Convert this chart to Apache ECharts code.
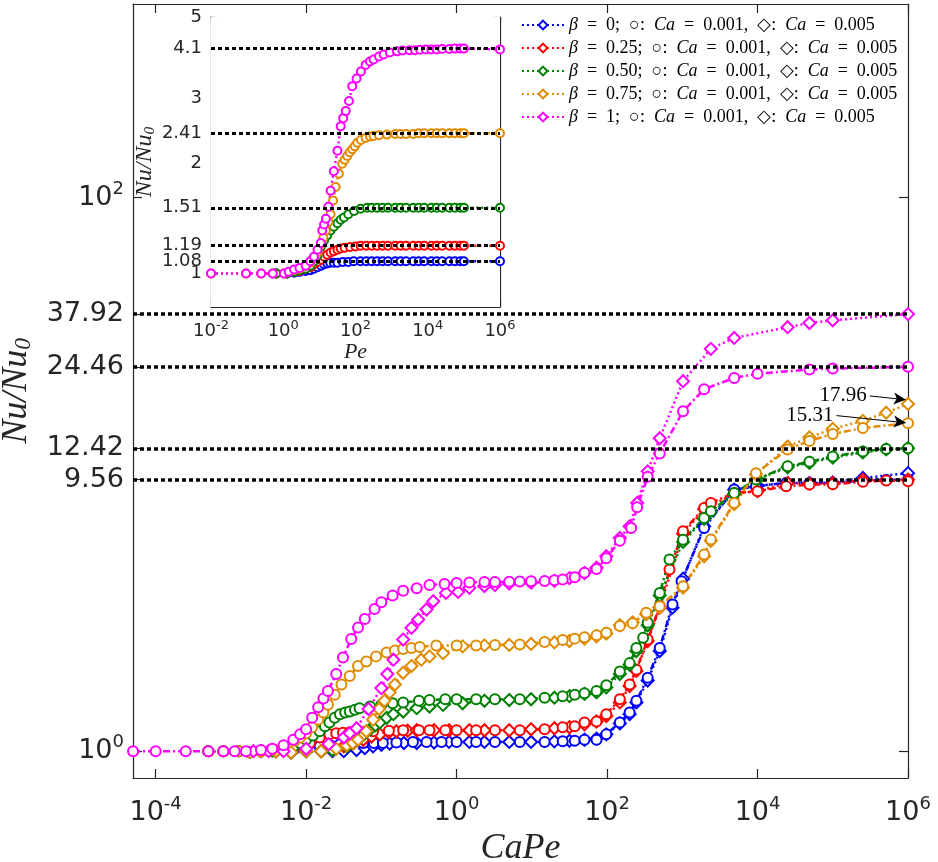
<!DOCTYPE html>
<html>
<head>
<meta charset="utf-8">
<script src="https://cdn.jsdelivr.net/npm/echarts@6/dist/echarts.min.js"></script>
<style>
html,body{margin:0;padding:0;background:#fff;}
#chart{width:938px;height:862px;}
</style>
</head>
<body>
<div id="chart"></div>
<script>
// values; x arrays hold log10(CaPe) (main) or log10(Pe) (inset)
var betaLabels = ['0', '0.25', '0.50', '0.75', '1'];
var colors = ['#0000ff', '#ff0000', '#008000', '#e08a00', '#ff00ff'];

// main plot, Ca = 0.001 (circles, dash-dot)
var blueAX = [-3.3,-3.1,-2.9,-2.75,-2.6,-2.45,-2.3,-2.15,-2.0,-1.82,-1.68,-1.55,-1.4,-1.24,-1.1,-0.98,-0.8,-0.58,-0.4,-0.2,0,0.26,0.51,0.84,1.17,1.41,1.57,1.70,1.86,1.99,2.17,2.30,2.39,2.54,2.70,2.87,2.99,3.29,3.69,3.98,4.38,4.69,5.0,5.4,5.71,6.0];
var blueAY = [1,1,1,0.99,1.0,1.0,1.01,1.02,1.03,1.04,1.05,1.06,1.065,1.07,1.07,1.07,1.075,1.08,1.08,1.08,1.08,1.08,1.08,1.08,1.08,1.085,1.09,1.10,1.10,1.15,1.27,1.38,1.52,1.84,2.36,3.39,4.11,6.4,8.81,9.06,9.31,9.3,9.3,9.5,9.55,9.56];
var redAX = [-3.3,-3.1,-2.9,-2.75,-2.6,-2.45,-2.3,-2.17,-2.05,-1.95,-1.82,-1.69,-1.6,-1.51,-1.42,-1.33,-1.22,-1.11,-0.9,-0.71,-0.5,-0.36,-0.15,0,0.26,0.51,0.84,1.17,1.41,1.57,1.70,1.86,1.99,2.17,2.30,2.39,2.54,2.70,2.83,3.01,3.29,3.38,3.69,4.0,4.38,4.69,5.0,5.4,5.71,6.0];
var redAY = [1,1,1,0.99,1.0,1.0,1.01,1.03,1.05,1.07,1.12,1.15,1.16,1.165,1.17,1.17,1.175,1.18,1.185,1.19,1.19,1.19,1.19,1.19,1.19,1.19,1.19,1.20,1.22,1.23,1.27,1.28,1.36,1.54,1.74,1.97,2.53,3.34,4.53,6.23,7.56,7.88,8.57,8.69,9.05,9.18,9.2,9.4,9.5,9.44];
var greenAX = [-3.3,-3.1,-2.9,-2.75,-2.6,-2.45,-2.3,-2.17,-2.08,-2.0,-1.91,-1.82,-1.75,-1.69,-1.62,-1.55,-1.48,-1.42,-1.35,-1.29,-1.15,-1.0,-0.85,-0.71,-0.5,-0.36,-0.15,0,0.26,0.51,0.84,1.17,1.41,1.57,1.70,1.86,1.99,2.17,2.30,2.39,2.48,2.54,2.70,2.83,3.01,3.29,3.38,3.69,3.98,4.40,4.69,5.0,5.4,5.71,6.0];
var greenAY = [1,1,1,0.99,1.0,1.0,1.01,1.04,1.07,1.10,1.14,1.18,1.23,1.27,1.32,1.36,1.38,1.39,1.41,1.43,1.45,1.47,1.49,1.50,1.52,1.53,1.54,1.54,1.54,1.54,1.54,1.56,1.58,1.60,1.62,1.65,1.73,1.94,2.08,2.36,2.57,2.91,3.73,4.92,5.8,6.96,7.35,8.57,9.57,10.7,11.1,11.6,12.1,12.35,12.42];
var orangeAX = [-3.3,-3.1,-2.9,-2.75,-2.6,-2.45,-2.3,-2.15,-2.08,-2.0,-1.92,-1.84,-1.77,-1.71,-1.62,-1.53,-1.42,-1.31,-1.20,-1.07,-0.93,-0.82,-0.71,-0.6,-0.49,-0.27,0,0.26,0.51,0.84,1.17,1.41,1.57,1.70,1.86,1.99,2.17,2.34,2.52,2.70,3.01,3.29,3.38,3.69,3.98,4.40,4.69,5.0,5.4,6.0];
var orangeAY = [1,1,1,0.99,1.0,1.01,1.03,1.09,1.12,1.16,1.22,1.30,1.38,1.47,1.60,1.74,1.87,2.03,2.11,2.20,2.27,2.31,2.34,2.36,2.38,2.41,2.41,2.41,2.42,2.43,2.48,2.52,2.55,2.58,2.62,2.68,2.83,2.9,3.16,3.34,3.94,5.13,5.81,7.88,10.1,12.3,13.2,14.0,14.7,15.31];
var magentaAX = [-4.3,-4.0,-3.6,-3.3,-3.1,-2.95,-2.8,-2.6,-2.45,-2.3,-2.17,-2.08,-2.0,-1.92,-1.84,-1.77,-1.71,-1.6,-1.51,-1.40,-1.31,-1.22,-1.09,-1.0,-0.85,-0.71,-0.53,-0.36,-0.16,0,0.17,0.37,0.51,0.70,0.84,0.99,1.17,1.30,1.41,1.57,1.70,1.86,1.99,2.17,2.32,2.40,2.54,2.70,3.01,3.29,3.69,4.0,4.69,5.0,6.0];
var magentaAY = [1,1,1,1,1,1,1,1.01,1.02,1.05,1.10,1.15,1.20,1.32,1.44,1.55,1.65,1.9,2.18,2.54,2.80,3.0,3.26,3.45,3.65,3.80,3.88,3.98,4.02,4.05,4.07,4.08,4.08,4.09,4.10,4.11,4.12,4.14,4.17,4.25,4.41,4.55,4.98,5.75,6.4,7.6,9.8,11.9,16.9,20.3,22.3,23.1,23.9,24.1,24.46];

// main plot, Ca = 0.005 (diamonds, dotted)
var blueBX = [-2.6,-2.4,-2.2,-2.0,-1.8,-1.65,-1.5,-1.33,-1.22,-1.11,-1.0,-0.89,-0.7,-0.53,-0.3,-0.1,0.17,0.37,0.70,0.99,1.30,1.50,1.70,1.86,1.99,2.17,2.30,2.39,2.54,2.70,2.87,3.01,3.29,3.69,4.0,4.4,4.69,5.0,5.4,6.0];
var blueBY = [1,1,0.99,1.0,1.0,1.0,1.0,1.01,1.025,1.04,1.055,1.065,1.07,1.07,1.075,1.08,1.08,1.08,1.08,1.08,1.085,1.09,1.10,1.11,1.15,1.26,1.36,1.5,1.8,2.3,3.3,4.2,6.5,8.8,9.1,9.3,9.3,9.35,9.7,10.1];
var redBX = [-2.6,-2.4,-2.2,-2.0,-1.8,-1.65,-1.5,-1.37,-1.24,-1.13,-1.02,-0.9,-0.8,-0.65,-0.53,-0.3,-0.1,0.17,0.37,0.70,0.99,1.30,1.50,1.70,1.86,1.99,2.17,2.30,2.39,2.54,2.70,3.01,3.29,3.69,4.0,4.4,4.69,5.0,5.4,6.0];
var redBY = [1,1,0.99,1.0,1.0,1.01,1.04,1.07,1.10,1.13,1.15,1.17,1.18,1.185,1.19,1.19,1.19,1.19,1.19,1.19,1.20,1.21,1.22,1.25,1.28,1.34,1.5,1.72,1.95,2.5,3.3,6.1,7.5,8.5,8.7,9.3,9.25,9.3,9.57,9.56];
var greenBX = [-2.6,-2.4,-2.2,-2.0,-1.8,-1.65,-1.46,-1.38,-1.31,-1.23,-1.15,-1.08,-1.02,-0.93,-0.84,-0.71,-0.53,-0.36,-0.18,0.08,0.37,0.70,0.99,1.30,1.50,1.70,1.86,1.99,2.17,2.30,2.39,2.54,2.70,3.01,3.29,3.69,4.0,4.40,4.69,5.0,5.4,5.71,6.0];
var greenBY = [1,1,0.99,1.0,1.0,1.01,1.04,1.07,1.10,1.15,1.20,1.24,1.27,1.32,1.36,1.39,1.43,1.45,1.47,1.49,1.52,1.53,1.54,1.56,1.58,1.61,1.63,1.70,1.9,2.05,2.3,2.85,3.65,5.7,6.9,8.5,9.6,10.6,11.0,11.5,12.0,12.3,12.42];
var orangeBX = [-2.6,-2.4,-2.2,-2.0,-1.8,-1.6,-1.46,-1.38,-1.31,-1.2,-1.11,-1.03,-0.96,-0.89,-0.82,-0.71,-0.60,-0.47,-0.36,-0.18,0.08,0.37,0.70,0.99,1.30,1.50,1.70,1.86,1.99,2.17,2.34,2.52,2.70,3.01,3.29,3.38,3.69,3.98,4.40,4.69,5.0,5.4,5.71,6.0];
var orangeBY = [1,1,0.99,1.0,1.0,1.02,1.05,1.07,1.10,1.18,1.30,1.42,1.52,1.63,1.74,1.92,2.03,2.14,2.20,2.26,2.39,2.41,2.42,2.44,2.47,2.50,2.55,2.60,2.66,2.85,2.92,3.12,3.3,3.9,5.06,5.75,7.8,10.0,12.6,13.6,14.6,15.6,16.7,17.96];
var magentaBX = [-2.7,-2.5,-2.3,-2.0,-1.7,-1.5,-1.42,-1.33,-1.17,-1.0,-0.92,-0.84,-0.71,-0.60,-0.51,-0.40,-0.31,-0.14,0.02,0.17,0.37,0.51,0.70,0.99,1.30,1.50,1.70,1.86,1.99,2.17,2.30,2.40,2.54,2.70,3.01,3.38,3.69,4.40,4.69,5.0,6.0];
var magentaBY = [1,1,1.0,1.02,1.06,1.12,1.16,1.21,1.42,1.69,1.9,2.14,2.53,2.79,2.99,3.25,3.48,3.73,3.76,3.89,3.95,3.98,4.03,4.06,4.12,4.22,4.4,4.6,5.06,5.89,6.49,7.88,10.25,13.5,21.7,28.4,31.1,34.0,35.2,36.0,37.92];

// inset, Nu/Nu0 against Pe
var blueInX = [-0.2,0.1,0.3,0.45,0.62,0.75,0.85,0.95,1.05,1.13,1.22,1.3,1.4,1.5,1.65,1.8,1.95,2.14,2.3,2.45,2.6,2.75,2.9,3.1,3.25,3.4,3.6,3.75,3.9,4.1,4.25,4.4,4.6,4.75,4.9,5.0,6.0];
var blueInY = [1,1,1.005,1.01,1.015,1.02,1.03,1.04,1.05,1.06,1.065,1.07,1.07,1.07,1.075,1.075,1.08,1.08,1.08,1.08,1.08,1.08,1.08,1.08,1.08,1.08,1.08,1.08,1.08,1.08,1.08,1.08,1.08,1.08,1.08,1.08,1.08];
var redInX = [-0.2,0.1,0.3,0.45,0.62,0.75,0.85,0.95,1.04,1.13,1.22,1.31,1.4,1.5,1.59,1.7,1.85,2.0,2.14,2.3,2.45,2.6,2.75,2.9,3.1,3.25,3.4,3.6,3.75,3.9,4.1,4.25,4.4,4.6,4.75,4.9,5.0,6.0];
var redInY = [1,1,1.01,1.015,1.03,1.04,1.06,1.075,1.09,1.11,1.125,1.14,1.15,1.16,1.17,1.175,1.18,1.185,1.19,1.19,1.19,1.19,1.19,1.19,1.19,1.19,1.19,1.19,1.19,1.19,1.19,1.19,1.19,1.19,1.19,1.19,1.19,1.19];
var greenInX = [-0.2,0.1,0.3,0.45,0.62,0.75,0.85,0.95,1.04,1.13,1.22,1.31,1.4,1.5,1.59,1.68,1.8,1.96,2.14,2.32,2.45,2.6,2.75,2.9,3.1,3.25,3.4,3.6,3.75,3.9,4.1,4.25,4.4,4.6,4.75,4.9,5.0,6.0];
var greenInY = [1,1,1.01,1.02,1.03,1.05,1.08,1.12,1.18,1.23,1.27,1.31,1.34,1.37,1.40,1.42,1.45,1.48,1.50,1.51,1.51,1.51,1.51,1.51,1.51,1.51,1.51,1.51,1.51,1.51,1.51,1.51,1.51,1.51,1.51,1.51,1.51,1.51];
var orangeInX = [-2,-1.03,-0.61,-0.29,0.02,0.3,0.45,0.62,0.75,0.85,0.95,1.04,1.11,1.18,1.25,1.31,1.38,1.45,1.54,1.63,1.7,1.77,1.84,1.91,1.98,2.05,2.15,2.28,2.4,2.5,2.65,2.87,3.1,3.25,3.4,3.6,3.75,3.9,4.1,4.25,4.4,4.6,4.75,4.9,5.0,6.0];
var orangeInY = [1,1,1,1,1,1.02,1.03,1.05,1.07,1.1,1.14,1.2,1.25,1.31,1.38,1.45,1.58,1.72,1.87,1.99,2.04,2.09,2.14,2.18,2.22,2.27,2.31,2.34,2.36,2.37,2.38,2.39,2.4,2.4,2.4,2.4,2.41,2.41,2.41,2.41,2.41,2.41,2.41,2.41,2.41,2.41];
var magentaInX = [-2,-1.03,-0.61,-0.29,0.02,0.15,0.30,0.45,0.62,0.75,0.85,0.95,1.04,1.08,1.13,1.18,1.25,1.31,1.4,1.5,1.59,1.66,1.73,1.82,1.91,2.03,2.15,2.28,2.4,2.5,2.65,2.78,2.95,3.15,3.3,3.5,3.65,3.79,3.95,4.1,4.25,4.4,4.6,4.75,4.9,5.0,6.0];
var magentaInY = [1,1,1,1,1,1.01,1.025,1.035,1.05,1.08,1.11,1.16,1.21,1.31,1.36,1.41,1.52,1.68,1.9,2.16,2.52,2.65,2.77,2.95,3.24,3.4,3.55,3.7,3.78,3.83,3.9,3.95,4.0,4.03,4.05,4.06,4.06,4.07,4.08,4.08,4.08,4.09,4.09,4.1,4.1,4.1,4.08];

// reference levels and tick labels
var mainLevels = [9.56, 12.42, 24.46, 37.92];
var mainYTicks = [1, 9.56, 12.42, 24.46, 37.92, 100];
var mainYTickLabels = ['10{sup|0}', '9.56', '12.42', '24.46', '37.92', '10{sup|2}'];
var mainXTicks = [1e-4, 1e-2, 1, 1e2, 1e4, 1e6];
var insetLevels = [1.08, 1.19, 1.51, 2.41, 4.1];
var insetYTicks = [1, 1.08, 1.19, 1.51, 2, 2.41, 3, 4.1, 5];
// 1.08 sits right on top of 1, so it is written beside its level line instead
var insetYLabelTicks = [1, 1.19, 1.51, 2, 2.41, 3, 4.1, 5];
var insetYTickLabels = ['1', '1.19', '1.51', '2', '2.41', '3', '4.1', '5'];
var insetXTicks = [1e-2, 1, 1e2, 1e4, 1e6];

var axisColor = '#262626';
var serif = 'Liberation Serif';
var sans = 'DejaVu Sans';
var wide = '\u2002';

function pts(lx, y) {
    var out = [];
    for (var i = 0; i < lx.length; i++) {
        out.push([Math.pow(10, lx[i]), y[i]]);
    }
    return out;
}

function legendName(i) {
    return 'β = ' + betaLabels[i] + '; ○: Ca = 0.001, ◇: Ca = 0.005';
}

function powLabel(v) {
    return '10{sup|' + Math.round(Math.log10(v)) + '}';
}

function pickLabel(v, ticks, labels) {
    var best = 0;
    for (var i = 1; i < ticks.length; i++) {
        if (Math.abs(Math.log(ticks[i] / v)) < Math.abs(Math.log(ticks[best] / v))) best = i;
    }
    return labels[best];
}

function logAxis(opt) {
    var base = {
        type: 'log',
        logBase: 10,
        gridIndex: opt.grid,
        min: opt.min,
        max: opt.max,
        position: opt.position,
        axisLine: {show: true, onZero: false, lineStyle: {color: axisColor, width: 1.2}},
        axisTick: {show: true, inside: true, length: opt.tickLen, customValues: opt.ticks,
            lineStyle: {color: axisColor, width: 1.2}},
        splitLine: {show: false},
        minorTick: {show: false},
        axisLabel: {show: false}
    };
    if (opt.labels) {
        base.axisLabel = {
            show: true,
            customValues: opt.labelTicks || opt.ticks,
            showMinLabel: true,
            showMaxLabel: true,
            hideOverlap: false,
            formatter: opt.formatter,
            color: axisColor,
            fontFamily: sans,
            fontSize: opt.fontSize,
            margin: opt.margin,
            rich: {sup: {fontSize: opt.supSize, fontFamily: sans, color: axisColor,
                padding: [0, 0, opt.supLift, 0]}}
        };
    }
    if (opt.name) {
        base.name = opt.name;
        base.nameLocation = 'middle';
        base.nameGap = opt.nameGap;
        base.nameTextStyle = {
            fontFamily: serif, fontStyle: 'italic', fontSize: opt.nameSize, color: axisColor,
            rich: {sub: {fontFamily: serif, fontSize: opt.nameSize * 0.65, color: axisColor,
                padding: [opt.nameSize * 0.45, 0, 0, 0]}}
        };
    }
    return base;
}

var xAxes = [
    logAxis({grid: 0, min: 5e-5, max: 1e6, position: 'bottom', tickLen: 9, ticks: mainXTicks,
        labels: true, formatter: powLabel, fontSize: 27, supSize: 18, supLift: 17, margin: 17,
        name: 'CaPe', nameGap: 50, nameSize: 36}),
    logAxis({grid: 0, min: 5e-5, max: 1e6, position: 'top', tickLen: 9, ticks: mainXTicks}),
    logAxis({grid: 1, min: 1e-2, max: 1e6, position: 'bottom', tickLen: 6, ticks: insetXTicks,
        labels: true, formatter: powLabel, fontSize: 18, supSize: 13, supLift: 12, margin: 12,
        name: 'Pe', nameGap: 30, nameSize: 22}),
    logAxis({grid: 1, min: 1e-2, max: 1e6, position: 'top', tickLen: 6, ticks: insetXTicks})
];
var yAxes = [
    logAxis({grid: 0, min: 0.8, max: 500, position: 'left', tickLen: 9, ticks: mainYTicks,
        labels: true, fontSize: 27, supSize: 18, supLift: 17, margin: 9,
        formatter: function (v) { return pickLabel(v, mainYTicks, mainYTickLabels); },
        name: 'Nu/Nu{sub|0}', nameGap: 84, nameSize: 36}),
    logAxis({grid: 0, min: 0.8, max: 500, position: 'right', tickLen: 9, ticks: mainYTicks}),
    logAxis({grid: 1, min: 0.81, max: 5, position: 'left', tickLen: 6, ticks: insetYTicks,
        labelTicks: insetYLabelTicks,
        labels: true, fontSize: 18, supSize: 13, supLift: 12, margin: 9,
        formatter: function (v) { return pickLabel(v, insetYLabelTicks, insetYTickLabels); },
        name: 'Nu/Nu{sub|0}', nameGap: 50, nameSize: 24}),
    logAxis({grid: 1, min: 0.81, max: 5, position: 'right', tickLen: 6, ticks: insetYTicks})
];

var mainA = [[blueAX, blueAY], [redAX, redAY], [greenAX, greenAY], [orangeAX, orangeAY], [magentaAX, magentaAY]];
var mainB = [[blueBX, blueBY], [redBX, redBY], [greenBX, greenBY], [orangeBX, orangeBY], [magentaBX, magentaBY]];
var inset = [[blueInX, blueInY], [redInX, redInY], [greenInX, greenInY], [orangeInX, orangeInY], [magentaInX, magentaInY]];

function levelLines(values, width, labelled) {
    return {
        silent: true,
        symbol: ['none', 'none'],
        label: {show: false},
        lineStyle: {color: '#000', width: width, type: [4, 3], opacity: 1},
        data: values.map(function (v) {
            var item = {yAxis: v};
            if (labelled && labelled.indexOf(v) >= 0) {
                item.label = {show: true, position: 'start', distance: 9, formatter: String(v),
                    color: axisColor, fontFamily: sans, fontSize: 18};
            }
            return item;
        })
    };
}

var series = [];
// black dotted reference levels below the data
series.push({type: 'line', xAxisIndex: 0, yAxisIndex: 0, data: [], z: 1, markLine: levelLines(mainLevels, 3.5)});
series.push({type: 'line', xAxisIndex: 2, yAxisIndex: 2, data: [], z: 1, markLine: levelLines(insetLevels, 3, [1.08])});

for (var i = 0; i < 5; i++) {
    series.push({
        name: legendName(i), type: 'line', xAxisIndex: 0, yAxisIndex: 0,
        data: pts(mainB[i][0], mainB[i][1]),
        symbol: 'emptyDiamond', symbolSize: 12,
        itemStyle: {color: colors[i], borderWidth: 2.4},
        lineStyle: {color: colors[i], width: 2.5, type: [2, 3]}
    });
    series.push({
        name: legendName(i), type: 'line', xAxisIndex: 0, yAxisIndex: 0,
        data: pts(mainA[i][0], mainA[i][1]),
        symbol: 'emptyCircle', symbolSize: 10,
        itemStyle: {color: colors[i], borderWidth: 2.4},
        lineStyle: {color: colors[i], width: 2.5, type: [7, 3, 2, 3]}
    });
}
for (var j = 0; j < 5; j++) {
    series.push({
        name: 'inset ' + betaLabels[j], type: 'line', xAxisIndex: 2, yAxisIndex: 2,
        data: pts(inset[j][0], inset[j][1]),
        symbol: 'emptyCircle', symbolSize: 8,
        itemStyle: {color: colors[j], borderWidth: 2.4},
        lineStyle: {color: colors[j], width: 2.5, type: [2, 3]}
    });
}

// annotation arrows for the two orange end values
series.push({
    type: 'line', xAxisIndex: 0, yAxisIndex: 0, data: [], z: 5,
    markLine: {
        silent: true,
        symbol: ['none', 'arrow'],
        symbolSize: [9, 12],
        lineStyle: {color: '#000', width: 1, type: 'solid'},
        label: {show: true, position: 'start', distance: 3, color: '#000',
            fontFamily: serif, fontSize: 21},
        data: [
            [{coord: [Math.pow(10, 5.49), 19.2], label: {formatter: '17.96'}}, {coord: [Math.pow(10, 5.97), 18.6]}],
            [{coord: [Math.pow(10, 5.05), 16.3], label: {formatter: '15.31'}}, {coord: [Math.pow(10, 5.97), 15.35]}]
        ]
    }
});

var option = {
    animation: false,
    backgroundColor: '#fff',
    grid: [
        {left: 133, right: 30, top: 4, bottom: 84, show: true, borderWidth: 0,
            outerBoundsMode: 'none', containLabel: false},
        {left: 211, top: 17, width: 289, height: 290, show: true, backgroundColor: '#fff',
            borderWidth: 0, z: 3, outerBoundsMode: 'none', containLabel: false}
    ],
    legend: {
        data: [0, 1, 2, 3, 4].map(legendName),
        orient: 'vertical',
        left: 517,
        top: 14,
        itemWidth: 42,
        itemHeight: 11,
        itemGap: 5,
        backgroundColor: '#fff',
        padding: [2, 4, 2, 4],
        textStyle: {fontFamily: serif, fontSize: 18, color: '#000', lineHeight: 18,
            rich: {i: {fontFamily: serif, fontStyle: 'italic', fontSize: 18, color: '#000'}}},
        formatter: function (name) {
            var b = name.split(';')[0].replace('β = ', '');
            return ['{i|β}', '=', b + ';', '○:', '{i|Ca}', '=', '0.001,', '◇:', '{i|Ca}', '=', '0.005'].join(wide);
        }
    },
    xAxis: xAxes,
    yAxis: yAxes,
    series: series
};

var chart = echarts.init(document.getElementById('chart'));
chart.setOption(option);
</script>
</body>
</html>
